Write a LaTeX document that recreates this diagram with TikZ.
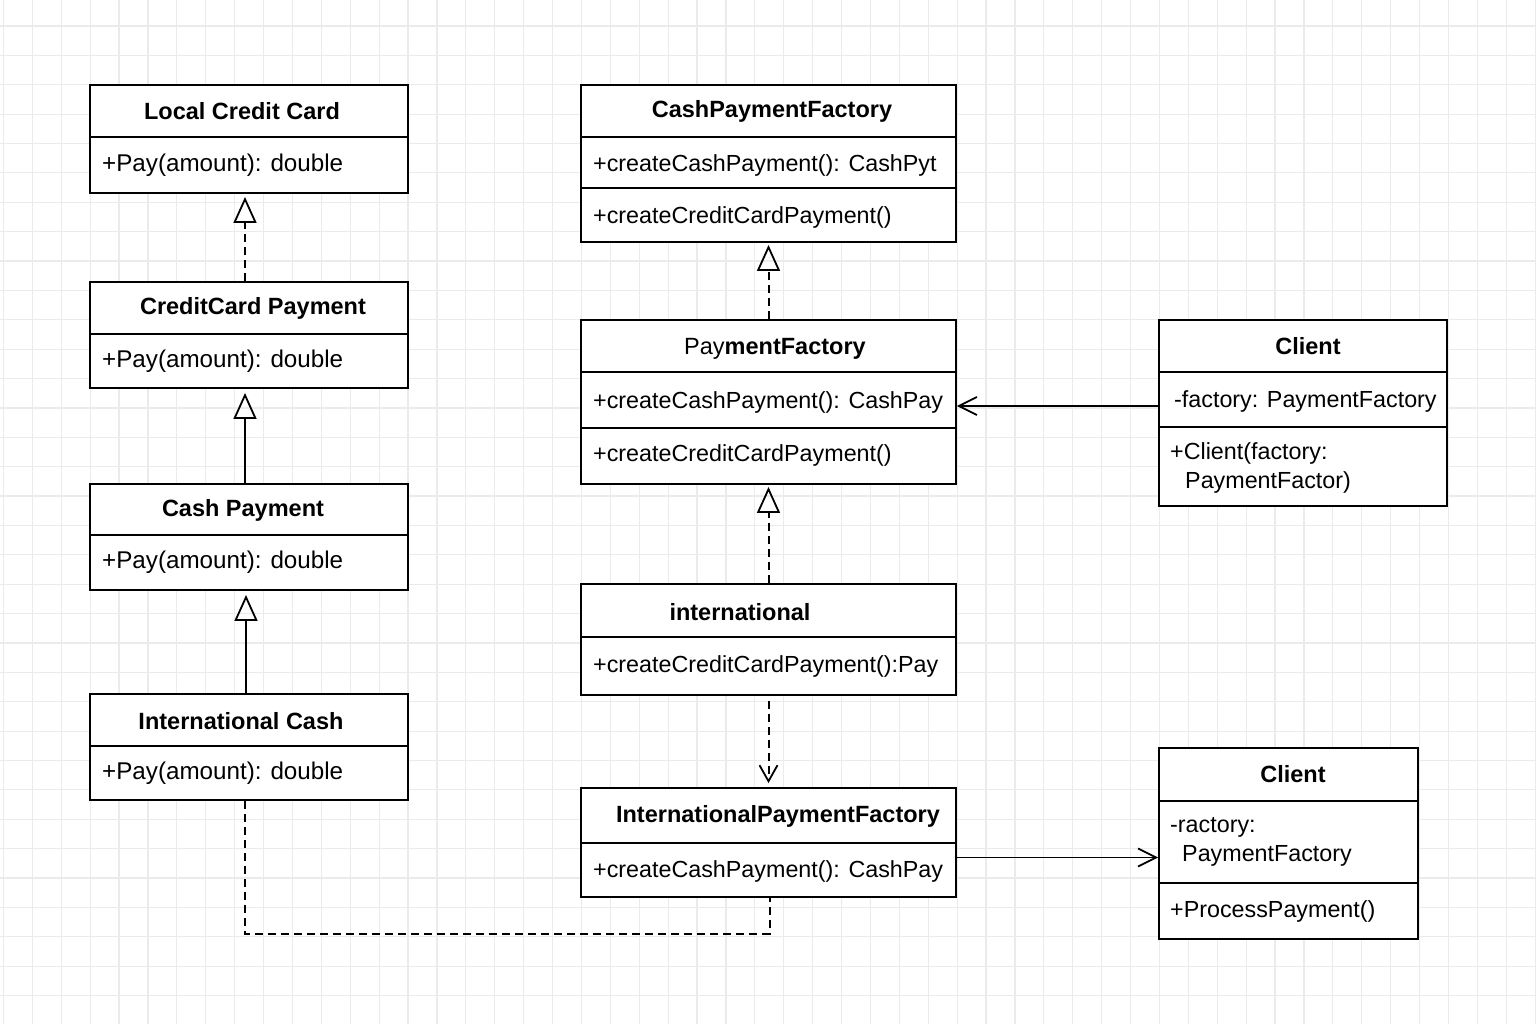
\documentclass[tikz,border=0pt]{standalone}
\usepackage{fontspec}
\setmainfont{Liberation Sans}
\usepackage{tikz}
\usetikzlibrary{arrows.meta, calc}
\tikzset{
    classbox/.style={rectangle, draw=black, line width=1.9pt, fill=white, inner sep=0pt},
    classtitle/.style={inner sep=0pt, font=\fontsize{23.5pt}{29pt}\selectfont\bfseries},
    member/.style={anchor=west, inner sep=0pt, align=left, font=\fontsize{23.3pt}{29pt}\selectfont},
    paymember/.style={member, font=\fontsize{24.2pt}{29pt}\selectfont},
    divider/.style={line width=1.5pt},
    realize/.style={-{Triangle[open, length=26pt, width=23pt, line width=1.8pt]}, line width=2pt, dash pattern=on 8pt off 5pt},
    inherit/.style={-{Triangle[open, length=26pt, width=23pt, line width=1.8pt]}, line width=2pt},
    depend/.style={-{Straight Barb[length=16pt, width=18pt, line width=1.8pt]}, line width=2pt, dash pattern=on 8pt off 5pt},
    assoc/.style={-{Straight Barb[length=18pt, width=18pt, line width=1.8pt]}, line width=1.9pt},
    dashline/.style={line width=2pt, dash pattern=on 8pt off 5pt},
    gridline/.style={draw=black!8, line width=1.2pt},
}
\begin{document}
\begin{tikzpicture}[x=1pt, y=-1pt]
    \useasboundingbox (0,0) rectangle (1536,1024);
    \fill[white] (0,0) rectangle (1536,1024);
    % background grid
    \foreach \i in {0,...,53}
        \draw[gridline] ({3.4+28.9*\i},0) -- ({3.4+28.9*\i},1024);
    \foreach \j in {0,...,35}
        \draw[gridline] (0,{-3.4+29.38*\j}) -- (1536,{-3.4+29.38*\j});

    % left column: payment classes
    \node[classbox, minimum width=318pt, minimum height=108pt] (lcc) at (249,139) {};
    \node[classbox, minimum width=318pt, minimum height=106pt] (ccp) at (249,335) {};
    \node[classbox, minimum width=318pt, minimum height=106pt] (cashp) at (249,537) {};
    \node[classbox, minimum width=318pt, minimum height=106pt] (intcash) at (249,747) {};
    \draw[divider] (lcc.west |- 0,137) -- (lcc.east |- 0,137);
    \draw[divider] (ccp.west |- 0,334) -- (ccp.east |- 0,334);
    \draw[divider] (cashp.west |- 0,535) -- (cashp.east |- 0,535);
    \draw[divider] (intcash.west |- 0,746) -- (intcash.east |- 0,746);
    \node[classtitle] (lcc-t) at (242,111) {Local Credit Card};
    \node[paymember] (lcc-m) at (102,165) {+Pay(amount): double};
    \node[classtitle] (ccp-t) at (253,308) {CreditCard Payment};
    \node[paymember] (ccp-m) at (102,361) {+Pay(amount): double};
    \node[classtitle] (cashp-t) at (243,510) {Cash Payment};
    \node[paymember] (cashp-m) at (102,562) {+Pay(amount): double};
    \node[classtitle] (intcash-t) at (241,721) {International Cash};
    \node[paymember] (intcash-m) at (102,773) {+Pay(amount): double};

    % middle column: factories
    \node[classbox, minimum width=375pt, minimum height=157pt] (cpf) at (768.5,163.5) {};
    \node[classbox, minimum width=375pt, minimum height=164pt] (pf) at (768.5,402) {};
    \node[classbox, minimum width=375pt, minimum height=111pt] (intl) at (768.5,639.5) {};
    \node[classbox, minimum width=375pt, minimum height=109pt] (ipf) at (768.5,842.5) {};
    \draw[divider] (cpf.west |- 0,137) -- (cpf.east |- 0,137);
    \draw[divider] (cpf.west |- 0,188) -- (cpf.east |- 0,188);
    \draw[divider] (pf.west |- 0,372) -- (pf.east |- 0,372);
    \draw[divider] (pf.west |- 0,428) -- (pf.east |- 0,428);
    \draw[divider] (intl.west |- 0,637) -- (intl.east |- 0,637);
    \draw[divider] (ipf.west |- 0,843) -- (ipf.east |- 0,843);
    \node[classtitle] (cpf-t) at (772,111) {CashPaymentFactory};
    \node[member] (cpf-m1) at (593,165) {+createCashPayment(): CashPyt};
    \node[member] (cpf-m2) at (593,217) {+createCreditCardPayment()};
    \node[classtitle] (pf-t) at (775,349) {{\mdseries Pay}mentFactory};
    \node[member] (pf-m1) at (593,402) {+createCashPayment(): CashPay};
    \node[member] (pf-m2) at (593,455) {+createCreditCardPayment()};
    \node[classtitle] (intl-t) at (740,612) {international};
    \node[member] (intl-m) at (593,666) {+createCreditCardPayment():Pay};
    \node[classtitle] (ipf-t) at (778,816) {InternationalPaymentFactory};
    \node[member] (ipf-m) at (593,871) {+createCashPayment(): CashPay};

    % right column: clients
    \node[classbox, minimum width=288pt, minimum height=186pt] (client) at (1303,413) {};
    \node[classbox, minimum width=259pt, minimum height=191pt] (client2) at (1288.5,843.5) {};
    \draw[divider] (client.west |- 0,372) -- (client.east |- 0,372);
    \draw[divider] (client.west |- 0,427) -- (client.east |- 0,427);
    \draw[divider] (client2.west |- 0,801) -- (client2.east |- 0,801);
    \draw[divider] (client2.west |- 0,883) -- (client2.east |- 0,883);
    \node[classtitle] (client-t) at (1308,346) {Client};
    \node[member] (client-m1) at (1174,401) {-factory: PaymentFactory};
    \node[member] (client-m2) at (1170,468) {+Client(factory:\\\hspace*{15pt}PaymentFactor)};
    \node[classtitle] (client2-t) at (1293,774) {Client};
    \node[member] (client2-m1) at (1170,842) {-ractory:\\\hspace*{12pt}PaymentFactory};
    \node[member] (client2-m2) at (1170,911) {+ProcessPayment()};

    % connectors
    \draw[realize] ([xshift=-4pt]ccp.north) -- ([xshift=-4pt, yshift=-3pt]lcc.south);
    \draw[inherit] ([xshift=-4pt]cashp.north) -- ([xshift=-4pt, yshift=-4pt]ccp.south);
    \draw[inherit] ([xshift=-3pt]intcash.north) -- ([xshift=-3pt, yshift=-4pt]cashp.south);
    \draw[realize] (pf.north) -- ([yshift=-2pt]cpf.south);
    \draw[realize] (intl.north) -- ([yshift=-2pt]pf.south);
    \draw[depend] ([yshift=-5pt]intl.south) -- ([yshift=4pt]ipf.north);
    \draw[assoc] ([yshift=7pt]client.west) -- ([yshift=7pt]client.west -| pf.east);
    \draw[assoc] ([yshift=-15pt]ipf.east) -- ([yshift=-15pt]ipf.east -| client2.west);
    \draw[dashline] ([xshift=-4pt]intcash.south) -- ++(0,133) -| ([xshift=1pt]ipf.south);
\end{tikzpicture}
\end{document}
